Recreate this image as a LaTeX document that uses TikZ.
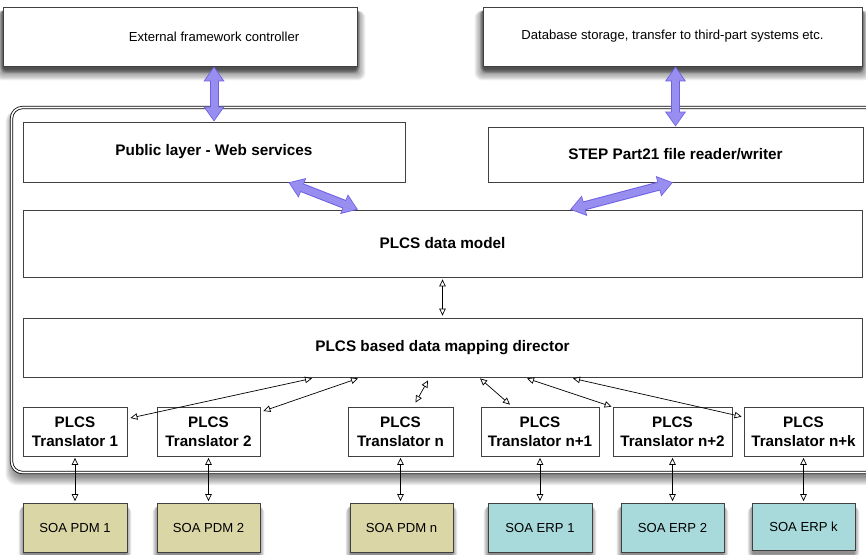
\documentclass[tikz,border=0pt]{standalone}
\usepackage{fontspec}
\setmainfont{Liberation Sans}
\usetikzlibrary{arrows.meta,calc}
\pgfdeclarelayer{background}
\pgfsetlayers{background,main}
\definecolor{pdmfill}{RGB}{218,214,166}
\definecolor{erpfill}{RGB}{168,218,219}
\definecolor{bigfill}{RGB}{152,142,240}
\definecolor{bigline}{RGB}{108,96,228}
\tikzset{
  box/.style={draw=black!75, line width=0.8pt, fill=white, inner sep=0pt, align=center},
  topbox/.style={box, font=\fontsize{13.1}{15}\selectfont},
  layerbox/.style={box, font=\bfseries\fontsize{15.3}{18}\selectfont},
  transbox/.style={box, font=\bfseries\fontsize{15.2}{19}\selectfont},
  soabox/.style={box, font=\fontsize{13.1}{15}\selectfont},
  shadowpiece/.style={fill=black, opacity=0.07},
  smallarr/.style={draw=black, line width=0.7pt,
     {Triangle[open,length=7pt,width=6.5pt]}-{Triangle[open,length=7pt,width=6.5pt]}},
  bigarr/.style={draw=bigline, line width=9pt,
     {Triangle[length=15pt,width=20pt]}-{Triangle[length=15pt,width=20pt]},
     postaction={draw=bigfill, line width=7pt, shorten <=1.3pt, shorten >=1.3pt,
       {Triangle[length=13pt,width=17pt]}-{Triangle[length=13pt,width=17pt]}}},
}
% soft shadow: node name, downward offset, spread
\newcommand{\softshadow}[3]{%
  \foreach \k in {1,...,8}{%
    \fill[shadowpiece, rounded corners=\k pt]
      ($(#1.south west)+(-\k*#3/8+2,#2+\k*#3/8)$) rectangle ($(#1.north east)+(\k*#3/8-2,#2)$);
  }}
\begin{document}
\begin{tikzpicture}[x=1pt,y=-1pt]
\useasboundingbox (0,0) rectangle (866,554);
% outer container
\coordinate (cnw) at (11.5,107.5);
\coordinate (cse) at (885,472.5);
\draw[draw=black, line width=0.8pt, double=white, double distance=1.6pt, rounded corners=11pt,
      fill=white] (cnw) rectangle (cse);
% top boxes
\node[topbox, minimum width=354pt, minimum height=59pt] (ctrl) at (180,36.5) {\hspace*{68pt}External framework controller};
\node[topbox, minimum width=379pt, minimum height=59pt] (db) at (672.5,36.5) {Database storage, transfer to third-part systems etc.};
% layers
\node[layerbox, minimum width=382pt, minimum height=60pt] (pub) at (214,152) {Public layer - Web services};
\node[layerbox, minimum width=375pt, minimum height=55pt] (step) at (675.5,154.5) {STEP Part21 file reader/writer};
\node[layerbox, minimum width=839pt, minimum height=67pt] (dm) at (442.5,243.5) {PLCS data model};
\node[layerbox, minimum width=839pt, minimum height=59pt] (dir) at (442.5,347.5) {PLCS based data mapping director};
% translators
\node[transbox, minimum width=104pt, minimum height=49pt] (t1) at (75,431.5) {PLCS\\Translator 1};
\node[transbox, minimum width=103pt, minimum height=49pt] (t2) at (208.5,431.5) {PLCS\\Translator 2};
\node[transbox, minimum width=105pt, minimum height=49pt] (tn) at (400.5,431.5) {PLCS\\Translator n};
\node[transbox, minimum width=118pt, minimum height=49pt] (tn1) at (540,431.5) {PLCS\\Translator n+1};
\node[transbox, minimum width=119pt, minimum height=49pt] (tn2) at (672.5,431.5) {PLCS\\Translator n+2};
\node[transbox, minimum width=119pt, minimum height=49pt] (tnk) at (803.5,431.5) {PLCS\\Translator n+k};
% SOA systems
\node[soabox, fill=pdmfill, minimum width=104pt, minimum height=49pt] (pdm1) at (75,527.5) {SOA PDM 1};
\node[soabox, fill=pdmfill, minimum width=103pt, minimum height=49pt] (pdm2) at (208.5,527.5) {SOA PDM 2};
\node[soabox, fill=pdmfill, minimum width=103pt, minimum height=49pt] (pdmn) at (401.5,527.5) {SOA PDM n};
\node[soabox, fill=erpfill, minimum width=104pt, minimum height=49pt] (erp1) at (540,527.5) {SOA ERP 1};
\node[soabox, fill=erpfill, minimum width=103pt, minimum height=49pt] (erp2) at (672.5,527.5) {SOA ERP 2};
\node[soabox, fill=erpfill, minimum width=103pt, minimum height=47pt] (erpk) at (803.5,526.5) {SOA ERP k};
% shadows
\begin{pgfonlayer}{background}
  \softshadow{ctrl}{4}{10}
  \softshadow{ctrl}{2}{5}
  \softshadow{db}{4}{10}
  \softshadow{db}{2}{5}
  \foreach \s in {pdm1,pdm2,pdmn,erp1,erp2,erpk} {\softshadow{\s}{3}{6}}
  \foreach \k in {1,...,8}{%
    \fill[shadowpiece, rounded corners=11pt]
      ($(cnw)+(-\k*1.1+3,3)$) rectangle ($(cse)+(\k*1.1,3+\k*1.2)$);
  }
\end{pgfonlayer}
% big purple arrows
\draw[bigarr] (ctrl.south -| pub.north) -- (pub.north);
\draw[bigarr] (db.south -| step.north) -- (step.north);
\draw[bigarr] ([xshift=-117pt]pub.south east) -- ([xshift=-84.5pt]dm.north);
\draw[bigarr] ([xshift=-2.5pt]step.south) -- ([xshift=127.5pt]dm.north);
% data model <-> director
\draw[smallarr, shorten <=2pt, shorten >=2pt] (dm.south) -- (dir.north);
% director <-> translators
\draw[smallarr] ([xshift=3pt,yshift=13.5pt]t1.east) -- ([xshift=-130.5pt,yshift=-1pt]dir.south);
\draw[smallarr] ([xshift=3pt,yshift=20.5pt]t2.east) -- ([xshift=-84.5pt,yshift=-1pt]dir.south);
\draw[smallarr] ([xshift=15pt,yshift=4pt]tn.north) -- ([xshift=-14.5pt,yshift=-3pt]dir.south);
\draw[smallarr] ([xshift=-30pt,yshift=2pt]tn1.north) -- ([xshift=37.5pt,yshift=-1pt]dir.south);
\draw[smallarr] ([xshift=-1pt]tn2.north west) -- ([xshift=84.5pt,yshift=-1pt]dir.south);
\draw[smallarr] ([xshift=-2pt,yshift=-10pt]tnk.north west) -- ([xshift=130.5pt,yshift=-1pt]dir.south);
% translators <-> SOA systems
\foreach \t/\s in {t1/pdm1, t2/pdm2, tn/pdmn, tn1/erp1, tn2/erp2, tnk/erpk}
  \draw[smallarr, shorten <=1.5pt, shorten >=1.5pt] (\t.south) -- (\t.south |- \s.north);
\end{tikzpicture}
\end{document}
